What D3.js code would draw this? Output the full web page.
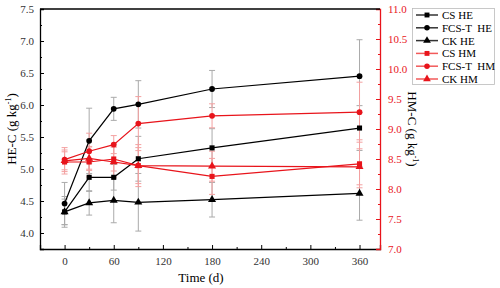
<html>
<head>
<meta charset="utf-8"/>
<script src="https://d3js.org/d3.v7.min.js"></script>
<style>
body { margin: 0; background: #fff; }
svg text { font-family: "Liberation Serif", "Times New Roman", serif; }
</style>
</head>
<body>
<div id="v"></div>
<script type="text/javascript">
var days = [0, 30, 60, 90, 180, 360];

var csHE = [4.33, 4.87, 4.87, 5.16, 5.33, 5.64];
var fcsHE = [4.46, 5.44, 5.94, 6.01, 6.25, 6.45];
var ckHE = [4.33, 4.47, 4.51, 4.48, 4.52, 4.62];
var csHM = [8.45, 8.45, 8.50, 8.39, 8.21, 8.42];
var fcsHM = [8.49, 8.63, 8.74, 9.09, 9.22, 9.28];
var ckHM = [8.47, 8.51, 8.45, 8.39, 8.38, 8.37];

var csHEerr = [0.2, 0.22, 0.2, 0.35, 0.3, 0.35];
var fcsHEerr = [0.33, 0.51, 0.18, 0.37, 0.29, 0.57];
var ckHEerr = [0.24, 0.19, 0.35, 0.45, 0.27, 0.42];
var csHMerr = [0.2, 0.25, 0.2, 0.35, 0.3, 0.4];
var fcsHMerr = [0.2, 0.3, 0.15, 0.45, 0.2, 0.5];
var ckHMerr = [0.15, 0.2, 0.25, 0.3, 0.25, 0.3];

var xTicks = [0, 60, 120, 180, 240, 300, 360];
var leftTicks = [4.0, 4.5, 5.0, 5.5, 6.0, 6.5, 7.0, 7.5];
var rightTicks = [7.0, 7.5, 8.0, 8.5, 9.0, 9.5, 10.0, 10.5, 11.0];

var series = [
  {name: "CS HE", vals: csHE, err: csHEerr, axis: "L", marker: "square"},
  {name: "FCS-T  HE", vals: fcsHE, err: fcsHEerr, axis: "L", marker: "circle"},
  {name: "CK HE", vals: ckHE, err: ckHEerr, axis: "L", marker: "triangle"},
  {name: "CS HM", vals: csHM, err: csHMerr, axis: "R", marker: "square"},
  {name: "FCS-T  HM", vals: fcsHM, err: fcsHMerr, axis: "R", marker: "circle"},
  {name: "CK HM", vals: ckHM, err: ckHMerr, axis: "R", marker: "triangle"}
];

var width = 500, height = 288;
var L = 40, R = 380, T = 9, B = 249;
var red = "#e8141b";
var serif = "Liberation Serif";

var x = d3.scaleLinear().domain([-30, 385]).range([L, R]);
var yL = d3.scaleLinear().domain([3.75, 7.5]).range([B, T]);
var yR = d3.scaleLinear().domain([7.0, 11.0]).range([B, T]);

var svg = d3.select("#v").append("svg")
  .attr("width", width).attr("height", height);

// axes (ticks inward)
var fmt = d3.format(".1f");
var gx = svg.append("g").attr("transform", "translate(0," + B + ")")
  .call(d3.axisBottom(x).tickValues(xTicks).tickSize(-4).tickPadding(8));
svg.append("g").attr("transform", "translate(0," + B + ")")
  .call(d3.axisBottom(x).tickValues([30, 90, 150, 210, 270, 330]).tickSize(-2).tickFormat(""))
  .select(".domain").remove();
var gl = svg.append("g").attr("transform", "translate(" + L + ",0)")
  .call(d3.axisLeft(yL).tickValues(leftTicks).tickSize(-4).tickPadding(6).tickFormat(fmt));
svg.append("g").attr("transform", "translate(" + L + ",0)")
  .call(d3.axisLeft(yL).tickValues([4.25, 4.75, 5.25, 5.75, 6.25, 6.75, 7.25]).tickSize(-2).tickFormat(""))
  .select(".domain").remove();
var gr = svg.append("g").attr("transform", "translate(" + R + ",0)")
  .call(d3.axisRight(yR).tickValues(rightTicks).tickSize(-4).tickPadding(8).tickFormat(fmt));
svg.append("g").attr("class", "rminor").attr("transform", "translate(" + R + ",0)")
  .call(d3.axisRight(yR).tickValues([7.25, 7.75, 8.25, 8.75, 9.25, 9.75, 10.25, 10.75]).tickSize(-2).tickFormat(""))
  .select(".domain").remove();

[gx, gl, gr].forEach(function(g) { g.attr("font-family", serif).attr("font-size", 11); });
svg.selectAll(".domain").attr("stroke-width", 1.3);
svg.selectAll(".tick text").attr("fill", "#333");
gr.selectAll(".tick text").attr("fill", red);
gr.selectAll("line, .domain").attr("stroke", red);
svg.selectAll(".rminor line").attr("stroke", red);

// top border
svg.append("line").attr("x1", L).attr("x2", R).attr("y1", T).attr("y2", T)
  .attr("stroke", "#000").attr("stroke-width", 1.3);

// axis titles
svg.append("text").attr("transform", "translate(16," + ((T + B) / 2) + ") rotate(-90)")
  .attr("text-anchor", "middle").attr("font-size", 13).attr("font-family", serif)
  .html('HE-C (g kg<tspan dy="-5" font-size="8">-1</tspan><tspan dy="5">)</tspan>');
svg.append("text").attr("transform", "translate(408," + ((T + B) / 2) + ") rotate(90)")
  .attr("text-anchor", "middle").attr("font-size", 13).attr("font-family", serif)
  .html('HM-C (g kg<tspan dy="-5" font-size="8">-1</tspan><tspan dy="5">)</tspan>');
svg.append("text").attr("x", 201).attr("y", 282).attr("text-anchor", "middle")
  .attr("font-size", 13).attr("font-family", serif).text("Time (d)");

function yOf(s) { return s.axis === "L" ? yL : yR; }
function markerPath(type, size) {
  var sym = type === "square" ? d3.symbolSquare : type === "circle" ? d3.symbolCircle : d3.symbolTriangle;
  return d3.symbol().type(sym).size(size)();
}

// error bars
series.forEach(function(s) {
  var y = yOf(s);
  var col = s.axis === "L" ? "#aaa" : "#f3a0a0";
  var g = svg.append("g").attr("stroke", col).attr("stroke-width", 1);
  var pts = days.map(function(d, i) { return {d: d, v: s.vals[i], e: s.err[i]}; });
  g.selectAll(".eb").data(pts).enter().append("line")
    .attr("x1", function(p) { return x(p.d); }).attr("x2", function(p) { return x(p.d); })
    .attr("y1", function(p) { return y(p.v - p.e); }).attr("y2", function(p) { return y(p.v + p.e); });
  [-1, 1].forEach(function(sg) {
    g.selectAll(".cap" + sg).data(pts).enter().append("line")
      .attr("x1", function(p) { return x(p.d) - 3; }).attr("x2", function(p) { return x(p.d) + 3; })
      .attr("y1", function(p) { return y(p.v + sg * p.e); }).attr("y2", function(p) { return y(p.v + sg * p.e); });
  });
});

// lines and markers
series.forEach(function(s) {
  var y = yOf(s);
  var col = s.axis === "L" ? "#000" : red;
  var line = d3.line().x(function(d) { return x(d); }).y(function(d, i) { return y(s.vals[i]); });
  svg.append("path").datum(days).attr("d", line)
    .attr("fill", "none").attr("stroke", col).attr("stroke-width", 1.2);
  svg.selectAll(null).data(days).enter().append("path")
    .attr("transform", function(d, i) { return "translate(" + x(d) + "," + y(s.vals[i]) + ")"; })
    .attr("d", markerPath(s.marker, s.marker === "triangle" ? 28 : 26))
    .attr("fill", col);
});

// legend
var lg = svg.append("g");
lg.append("rect").attr("x", 412.5).attr("y", 8.5).attr("width", 82).attr("height", 76)
  .attr("fill", "#fff").attr("stroke", "#bbb").attr("stroke-width", 0.8);
series.forEach(function(s, i) {
  var yy = 15 + i * 12.8;
  var col = s.axis === "L" ? "#333" : "#f25a5a";
  var mcol = s.axis === "L" ? "#000" : red;
  lg.append("line").attr("x1", 416).attr("x2", 438).attr("y1", yy).attr("y2", yy)
    .attr("stroke", col).attr("stroke-width", 1.5);
  lg.append("path").attr("transform", "translate(427," + yy + ")")
    .attr("d", markerPath(s.marker, s.marker === "triangle" ? 26 : 24)).attr("fill", mcol);
  lg.append("text").attr("x", 442).attr("y", yy + 4).attr("font-size", 11).attr("font-family", serif)
    .attr("xml:space", "preserve").style("white-space", "pre").text(s.name);
});
</script>
</body>
</html>
